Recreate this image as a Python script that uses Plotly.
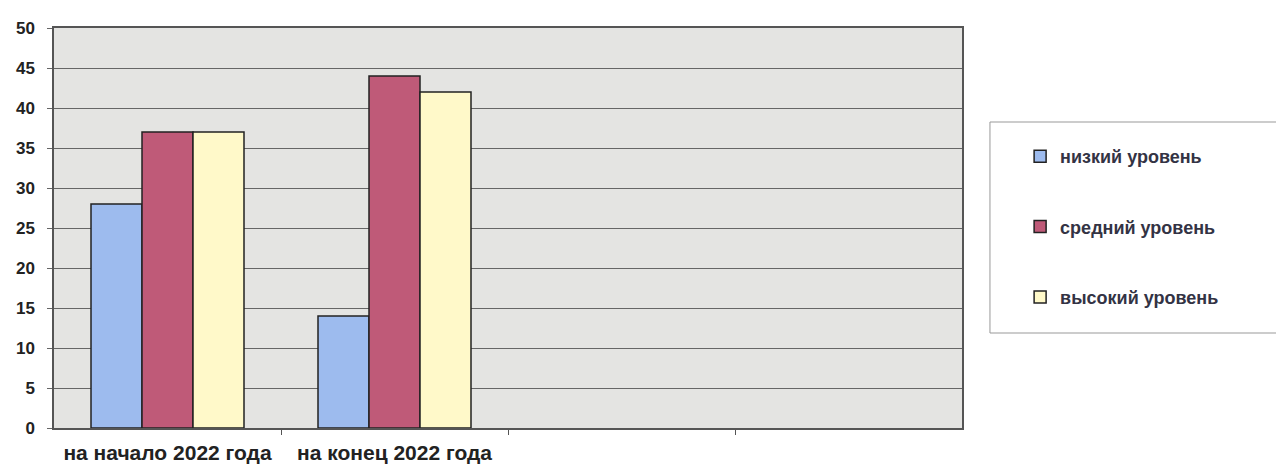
import plotly.graph_objects as go

categories = ["на начало 2022 года", "на конец 2022 года", "", ""]
series_names = ["низкий уровень", "средний уровень", "высокий уровень"]
low = [28, 14, None, None]
mid = [37, 44, None, None]
high = [37, 42, None, None]
y_ticks = [0, 5, 10, 15, 20, 25, 30, 35, 40, 45, 50]

colors = ["#9dbbee", "#bf5a78", "#fff9c9"]
positions = list(range(len(categories)))

FONT = "Liberation Sans, Arial"

fig = go.Figure()
for i, (name, vals) in enumerate(zip(series_names, [low, mid, high])):
    fig.add_trace(go.Bar(
        x=positions, y=vals, name=name, legendgroup=name,
        marker=dict(color=colors[i], line=dict(color="#222222", width=1.5)),
    ))

fig.update_layout(
    width=1284, height=465,
    margin=dict(l=46, r=330, t=20, b=45, autoexpand=False),
    paper_bgcolor="white",
    plot_bgcolor="#e4e4e2",
    barmode="group",
    bargap=0.326,
    bargroupgap=0,
    font=dict(family=FONT, size=14, color="#222222"),
    showlegend=True,
    legend=dict(
        x=1.064, y=0.725, xanchor="left", yanchor="top",
        bgcolor="rgba(0,0,0,0)", borderwidth=0,
        font=dict(size=18, color="#333344", family=FONT, weight="bold"),
        tracegroupgap=44,
        traceorder="grouped",
    ),
    shapes=[dict(
        type="rect", xref="paper", yref="paper",
        x0=1.0308, x1=1.3524, y0=0.2375, y1=0.765,
        line=dict(color="#999999", width=1), fillcolor="white", layer="below",
    )],
)

fig.update_xaxes(
    range=[-0.5, len(categories) - 0.5], automargin=False,
    tickvals=positions[:2], ticktext=categories[:2],
    ticks="", showgrid=False, zeroline=False,
    showline=True, linecolor="#555555", linewidth=1.5, mirror=True,
    ticklabelstandoff=5,
    tickfont=dict(size=21, family=FONT, color="#222222", weight="bold"),
    minor=dict(tickvals=[p + 0.5 for p in positions[:-1]], ticks="outside",
               ticklen=5, tickcolor="#555555", showgrid=False),
)
fig.update_yaxes(
    range=[0, 50], tickvals=y_ticks, automargin=False,
    showgrid=True, gridcolor="#666666", gridwidth=1,
    zeroline=False,
    showline=True, linecolor="#555555", linewidth=1.5, mirror=True,
    ticks="outside", ticklen=5, tickcolor="#666666",
    ticklabelstandoff=9,
    tickfont=dict(size=17, family=FONT, color="#222222", weight="bold"),
)

fig.write_html("out.html")
